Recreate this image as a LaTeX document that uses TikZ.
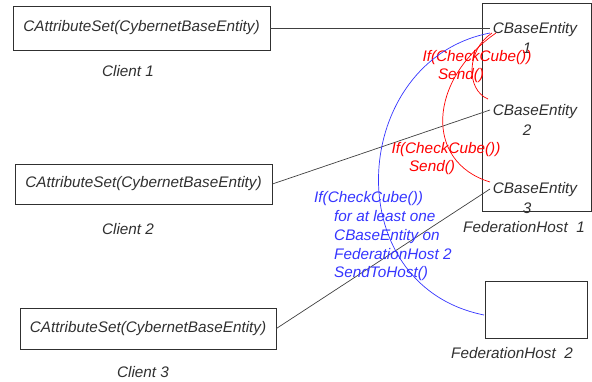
\documentclass[tikz,border=0pt]{standalone}
\usepackage{fontspec}
\setmainfont{Liberation Sans}
\definecolor{txt}{HTML}{303030}
\definecolor{bl}{HTML}{3535FF}
\begin{document}
\begin{tikzpicture}[x=1pt,y=-1pt,
  every node/.style={font=\fontsize{15.3}{20}\selectfont\itshape, text=txt, inner sep=0pt},
  box/.style={draw=txt, line width=0.8pt},
  conn/.style={draw=black!75, line width=0.7pt},
  redt/.style={text=red},
  bluet/.style={text=bl, anchor=base west},
  redarc/.style={draw=red, line width=0.7pt},
  bluearc/.style={draw=bl, line width=0.7pt}]
\useasboundingbox (0,0) rectangle (592,381);
% client boxes
\node[box, minimum width=257pt, minimum height=44pt] (c1) at (141.5,28) {CAttributeSet(CybernetBaseEntity)};
\node (l1) at (128,71) {Client 1};
\node[box, minimum width=257pt, minimum height=40pt] (c2) at (143.5,184) {CAttributeSet(CybernetBaseEntity)};
\node (l2) at (128,229) {Client 2};
\node[box, minimum width=256pt, minimum height=41pt] (c3) at (148,328.5) {CAttributeSet(CybernetBaseEntity)};
\node (l3) at (143,372.5) {Client 3};
% federation hosts
\node[box, minimum width=109pt, minimum height=208pt] (f1) at (536.5,107) {};
\node (lf1) at (524,227) {FederationHost\ \ 1};
\node[box, minimum width=102pt, minimum height=57pt] (f2) at (536,309.5) {};
\node (lf2) at (512,353) {FederationHost\ \ 2};
% entities
\node[align=center] (e1) at (535,38) {CBaseEntity\\\hspace*{-16pt}1};
\node[align=center] (e2) at (535,120) {CBaseEntity\\\hspace*{-16pt}2};
\node[align=center] (e3) at (535,198) {CBaseEntity\\\hspace*{-16pt}3};
\coordinate (e1w) at (490,28);
\coordinate (e2w) at (490,110);
\coordinate (e3w) at (490,189);
% connectors
\draw[conn] (c1.east) -- (e1w);
\draw[conn] (c2.east) -- (e2w);
\draw[conn] (c3.east) -- (e3w);
% red arcs
\coordinate (r1s) at (492,33);
\coordinate (r1e) at (488,99);
\coordinate (r2s) at (496,33);
\coordinate (r2e) at (490,182);
\draw[redarc] (r1s) .. controls (466,50) and (466,90) .. (r1e);
\draw[redarc] (r2s) .. controls (428,80) and (424,162) .. (r2e);
\node[redt] (t1a) at (477,58) {If(CheckCube())};
\node[redt] (t1b) at (461,76) {Send()};
\node[redt] (t2a) at (446,150) {If(CheckCube())};
\node[redt] (t2b) at (432,168) {Send()};
% blue arc
\coordinate (b1s) at (490,33);
\coordinate (b1e) at (484,315);
\draw[bluearc] (b1s) .. controls (350,60) and (335,285) .. (b1e);
\node[bluet] (bt1) at (314,202.5) {If(CheckCube())};
\node[bluet] (bt2) at (334,221.5) {for at least one};
\node[bluet] (bt3) at (334,240) {CBaseEntity on};
\node[bluet] (bt4) at (334,259) {FederationHost 2};
\node[bluet] (bt5) at (334,277.5) {SendToHost()};
\end{tikzpicture}
\end{document}
